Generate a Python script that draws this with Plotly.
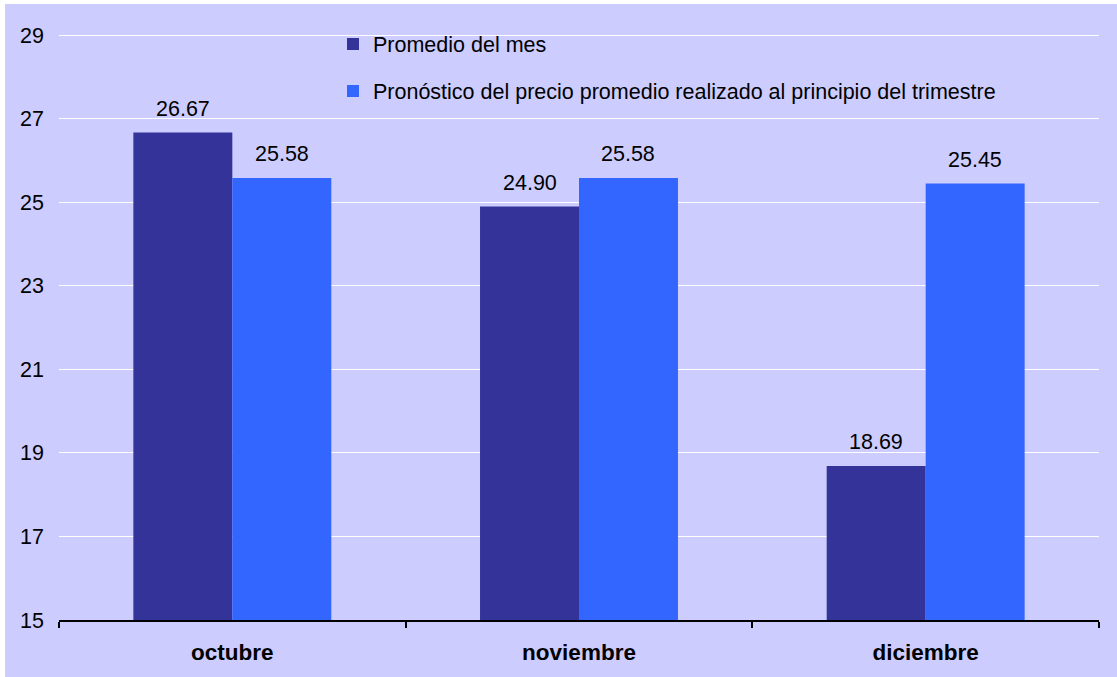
import plotly.graph_objects as go

months = ["octubre", "noviembre", "diciembre"]
promedio_mes = [26.67, 24.90, 18.69]
pronostico = [25.58, 25.58, 25.45]
y_ticks = [15, 17, 19, 21, 23, 25, 27, 29]

series_names = ["Promedio del mes",
                "Pronóstico del precio promedio realizado al principio del trimestre"]
colors = ["#333399", "#3366FF"]
FONT = "Liberation Sans, Arial, sans-serif"
FS = 21.5

fig = go.Figure()
for k, (name, vals, col) in enumerate(zip(series_names, [promedio_mes, pronostico], colors)):
    fig.add_trace(go.Bar(
        x=months, y=vals, name=name, marker=dict(color=col, line=dict(width=0)),
        legendgroup=f"g{k}",
    ))

# value labels above each bar
bargap = 0.429
half = (1 - bargap) / 4
annotations = []
for k, vals in enumerate([promedio_mes, pronostico]):
    off = -half if k == 0 else half
    for i, v in enumerate(vals):
        annotations.append(dict(
            x=i + off, y=v, xref="x", yref="y", text=f"{v:.2f}", showarrow=False,
            yanchor="bottom", yshift=10, font=dict(size=FS, color="black", family=FONT),
        ))

shapes = [
    # lavender panel with thin white strip on top/left
    dict(type="rect", xref="paper", yref="paper", x0=-0.0519, x1=1.02, y0=-0.1, y1=1.0512,
         fillcolor="#CCCCFF", line=dict(width=0), layer="below"),
    # legend area hides top gridline
    dict(type="rect", xref="paper", yref="paper", x0=0.2115, x1=0.9673, y0=0.97, y1=1.03,
         fillcolor="#CCCCFF", line=dict(width=0), layer="between"),
]

fig.update_layout(
    width=1117, height=677,
    margin=dict(l=59, r=18, t=34, b=57),
    paper_bgcolor="white",
    plot_bgcolor="rgba(0,0,0,0)",
    font=dict(family=FONT, size=FS, color="black"),
    barmode="group", bargap=bargap, bargroupgap=0,
    showlegend=True,
    legend=dict(x=(333 - 59) / 1040, xanchor="left", y=1.018, yanchor="top",
                bgcolor="rgba(0,0,0,0)", font=dict(size=FS, family=FONT),
                tracegroupgap=16, itemwidth=30, traceorder="grouped"),
    annotations=annotations,
    shapes=shapes,
)
fig.update_xaxes(type="category", tickson="boundaries", ticks="outside", ticklen=6,
                 tickwidth=2, tickcolor="black", showline=True, linecolor="black",
                 linewidth=2, showgrid=False,
                 tickfont=dict(size=22.5, family=FONT, weight="bold"),
                 ticklabelstandoff=11)
fig.update_yaxes(range=[15, 29.03], tickvals=y_ticks, showgrid=True, gridcolor="white",
                 gridwidth=1, showline=False, ticks="", zeroline=False,
                 tickfont=dict(size=FS, family=FONT), ticklabelstandoff=14)

fig.write_html("out.html")
